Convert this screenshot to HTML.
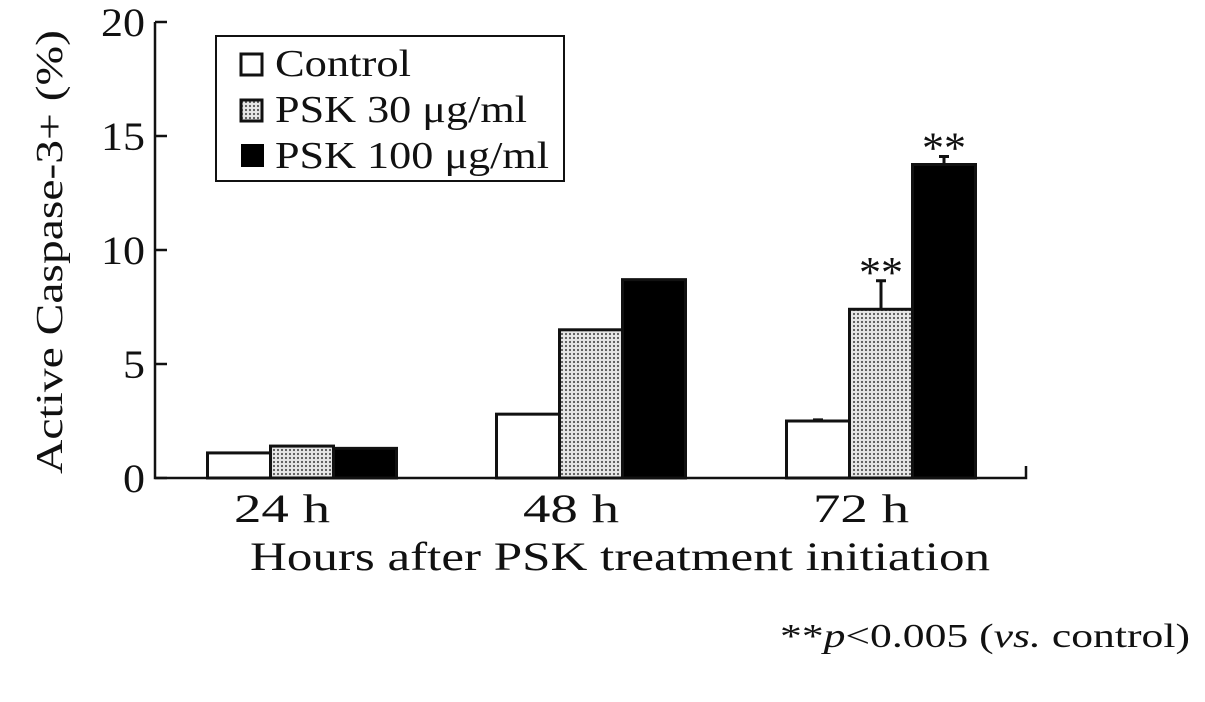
<!DOCTYPE html>
<html><head><meta charset="utf-8"><style>
body{margin:0;background:#fff}
svg text{font-family:"Liberation Serif",serif;fill:#111}
</style></head><body>
<svg width="1205" height="697" viewBox="0 0 1205 697">
<defs><pattern id="dots" width="4" height="4" patternUnits="userSpaceOnUse"><rect width="4" height="4" fill="#e6e6e6"/><circle cx="2" cy="2" r="1.1" fill="#555"/></pattern></defs>
<g id="plot"></g>
<g>
<rect x="216" y="36" width="348" height="145" fill="#fff" stroke="#111" stroke-width="2"/>
<rect x="241" y="54" width="21" height="21" fill="#fff" stroke="#111" stroke-width="3"/>
<text x="275" y="76" font-size="38" textLength="136" lengthAdjust="spacingAndGlyphs">Control</text>
<rect x="241" y="100" width="21" height="21" fill="url(#dots)" stroke="#111" stroke-width="3"/>
<text x="275" y="122" font-size="38" textLength="252" lengthAdjust="spacingAndGlyphs">PSK 30 μg/ml</text>
<rect x="241" y="144" width="23" height="23" fill="#000"/>
<text x="275" y="168" font-size="38" textLength="274" lengthAdjust="spacingAndGlyphs">PSK 100 μg/ml</text>
</g>
<text x="62" y="252" font-size="38" transform="rotate(-90 62 252)" text-anchor="middle" textLength="444" lengthAdjust="spacingAndGlyphs">Active Caspase-3+ (%)</text>
<text x="620" y="570" font-size="40" text-anchor="middle" textLength="740" lengthAdjust="spacingAndGlyphs">Hours after PSK treatment initiation</text>
<text x="1190" y="647" font-size="34" text-anchor="end" textLength="410" lengthAdjust="spacingAndGlyphs">**<tspan font-style="italic">p</tspan>&lt;0.005 (<tspan font-style="italic">vs.</tspan> control)</text>
</svg>
<script>
const categories=["24 h","48 h","72 h"];
const control=[1.1,2.8,2.5];
const psk30=[1.4,6.5,7.4];
const psk100=[1.3,8.7,13.75];
const errControl=[0,0,0.05];
const errPsk30=[0,0,1.25];
const errPsk100=[0,0,0.35];
const sig=[[false,false,false],[false,false,false],[false,true,true]];
const yTicks=[0,5,10,15,20];
const NS="http://www.w3.org/2000/svg";
const g=document.getElementById('plot');
const y0=478,ppu=22.8,xL=155,xR=1026;
const y=v=>y0-v*ppu;
const groupCenter=[302,591,881];
const bw=63;
function mk(t,a){const e=document.createElementNS(NS,t);for(const k in a)e.setAttribute(k,a[k]);g.appendChild(e);return e;}
let ax=mk('path',{d:`M${xL} ${y(20)} V${y0} H${xR} V${y0-12}`,fill:'none',stroke:'#111','stroke-width':2.5});


yTicks.forEach(t=>{
 const l=mk('line',{x1:xL,x2:xL+12,y1:y(t),y2:y(t),stroke:'#111','stroke-width':2.5});
 
 
 const tx=mk('text',{x:xL-10,y:y(t)+14,'font-size':40,'text-anchor':'end',textLength:String(t).length*22,lengthAdjust:'spacingAndGlyphs'});tx.textContent=t;
 
 
});
const series=[[control,errControl,'#fff','control'],[psk30,errPsk30,'url(#dots)','psk30'],[psk100,errPsk100,'#000','psk100']];
categories.forEach((c,i)=>{
 const tx=mk('text',{x:groupCenter[i]-20,y:522,'font-size':40,'text-anchor':'middle',textLength:96,lengthAdjust:'spacingAndGlyphs'});tx.textContent=c;
 
 
 series.forEach((s,j)=>{
  const x=groupCenter[i]-1.5*bw+j*bw, v=s[0][i], e=s[1][i];
  if(e>0){const el=mk('path',{d:`M${x+bw/2} ${y(v)} V${y(v+e)} M${x+bw/2-5} ${y(v+e)} H${x+bw/2+5}`,stroke:'#111','stroke-width':3});
   
   }
  const r=mk('rect',{x:x,y:y(v),width:bw,height:v*ppu,fill:s[2],stroke:'#111','stroke-width':3});
  
  
  if(sig[i][j]){const st=mk('text',{x:x+bw/2,y:y(v+e)+6,'font-size':44,'text-anchor':'middle'});st.textContent='**';
   
   }
 });
});
</script>
</body></html>
